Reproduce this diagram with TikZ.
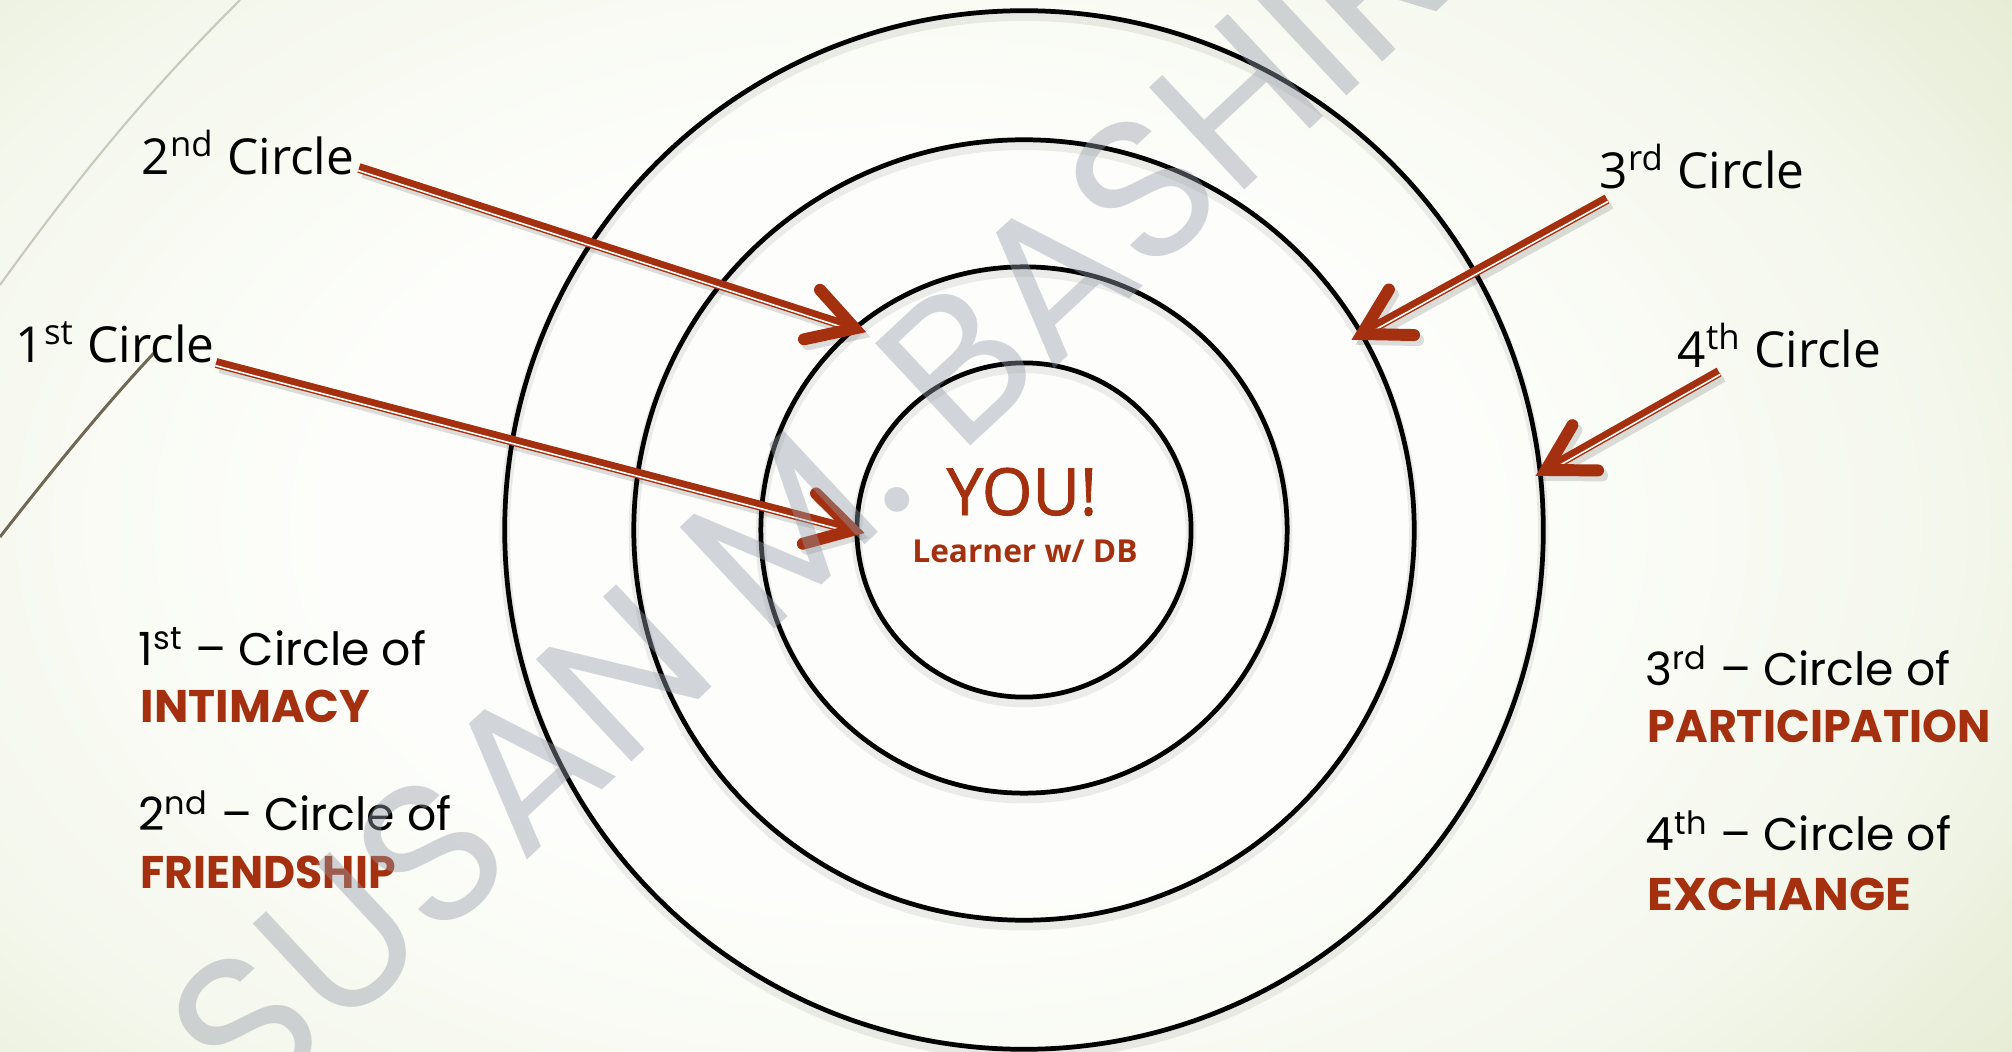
\documentclass[tikz,border=0pt]{standalone}
\usepackage{fontspec}
\setmainfont{Open Sans}
\newfontfamily\gothic{Poppins}
\newfontfamily\youfont[FakeBold=1.3]{Open Sans}
\usetikzlibrary{calc}
\definecolor{accent}{HTML}{A5300F}
\definecolor{bgin}{HTML}{FDFEFB}
\definecolor{bgmid}{HTML}{F4F7EC}
\definecolor{bgout}{HTML}{E3EAD0}
\definecolor{wmark}{RGB}{150,155,168}
\definecolor{curvelight}{RGB}{200,201,186}
\definecolor{curvedark}{RGB}{110,104,84}
\pgfdeclareradialshading{slidebg}{\pgfpoint{0bp}{0bp}}{color(0bp)=(bgin); color(12bp)=(bgin); color(22bp)=(bgmid); color(30bp)=(bgout); color(50bp)=(bgout)}
\newcommand\redarrow[4]{%
  \begin{scope}[transform canvas={shift={(0.04cm,-0.05cm)}}]
    \path ($(#2)!0.08cm!(#1)$) coordinate (ae);
    \draw[black, opacity=0.13, line width=2.9pt] (#1) -- (ae);
    \draw[black, opacity=0.13, line width=3.4pt, line cap=round] ($(#2)!0.52cm!30:(#1)$) -- (#2) -- ($(#2)!0.52cm!-30:(#1)$);
  \end{scope}
  \path ($(#2)!0.08cm!(#1)$) coordinate (ae);
  \draw[accent, line width=2.8pt] (#1) -- (ae);
  \draw[white, line width=0.45pt] ($(#1)!0.027cm!#3:(ae)$) -- ($(ae)!0.027cm!#4:(#1)$);
  \draw[accent, line width=3.4pt, line cap=round] ($(#2)!0.52cm!30:(#1)$) -- (#2) -- ($(#2)!0.52cm!-30:(#1)$);
}
\begin{document}
\begin{tikzpicture}[x=0.01cm,y=-0.01cm,
  ring/.style={circle, draw=black, line width=1.35pt, inner sep=0pt, outer sep=0pt},
  ringshadow/.style={circle, draw=black, opacity=0.07, line width=3pt, inner sep=0pt, outer sep=0pt},
  lbl/.style={anchor=base west, inner sep=0pt, font=\fontsize{14.1pt}{16pt}\selectfont},
  desc/.style={anchor=base west, inner sep=0pt, font=\gothic\fontsize{13pt}{16pt}\selectfont},
  key/.style={anchor=base west, inner sep=0pt, text=accent, font=\gothic\bfseries\fontsize{13pt}{16pt}\selectfont},
]
\useasboundingbox (0,0) rectangle (2012,1052);
\clip (0,0) rectangle (2012,1052);
\shade[shading=slidebg] (-300,-260) rectangle (2100,1310);

% decorative theme curves
\draw[curvelight, line width=0.6pt] (240,0) .. controls (160,80) and (90,160) .. (0,285);
\draw[curvedark, line width=0.85pt] (154,353) .. controls (110,400) and (60,460) .. (0,537);

\coordinate (ctr) at (1024,530);
% soft shadows of the rings
\foreach \d in {3.34,5.26,7.80,10.38}
  \node[ringshadow, minimum size=\d cm] at ($(ctr)+(0,5)$) {};
\node[ring, minimum size=3.34cm] (c1) at (ctr) {};
\node[ring, minimum size=5.26cm] (c2) at (ctr) {};
\node[ring, minimum size=7.80cm] (c3) at (ctr) {};
\node[ring, minimum size=10.38cm] (c4) at (ctr) {};

% labels
\node[lbl] (l2) at (141,175) {2\textsuperscript{nd} Circle};
\node[lbl] (l1) at (15,363) {1\textsuperscript{st} Circle};
\node[lbl] (l3) at (1599,189) {3\textsuperscript{rd} Circle};
\node[lbl] (l4) at (1677,368) {4\textsuperscript{th} Circle};

% arrow ends
\coordinate (s2) at (359,168);
\coordinate (t2) at (c2.130.5);
\coordinate (s1) at (216,363);
\coordinate (t1) at (853,530);
\coordinate (s3) at (1607,199);
\coordinate (t3) at (1362,334);
\coordinate (s4) at (1719,372);
\coordinate (t4) at (1546,470);

\redarrow{s2}{t2}{-90}{90}
\redarrow{s1}{t1}{-90}{90}
\redarrow{s3}{t3}{90}{-90}
\redarrow{s4}{t4}{90}{-90}

% centre
\node[text=accent, inner sep=0pt, anchor=base, font=\youfont\fontsize{18.5pt}{20pt}\selectfont] (you) at (1022,515) {YOU!};
\node[text=accent, inner sep=0pt, anchor=base, font=\bfseries\fontsize{9pt}{10pt}\selectfont] (lrn) at (1025,563) {Learner w/ DB};

% descriptions
\node[desc] (d1) at (138,665) {1\textsuperscript{st} – Circle of};
\node[key] (k1) at (140,722) {INTIMACY};
\node[desc] (d2) at (138,830) {2\textsuperscript{nd} – Circle of};
\node[key] (k2) at (140,888) {\scalebox{0.965}[1]{FRIENDSHIP}};
\node[desc] (d3) at (1645,685) {3\textsuperscript{rd} – Circle of};
\node[key] (k3) at (1647,742) {\scalebox{0.97}[1]{PARTICIPATION}};
\node[desc] (d4) at (1645,850) {4\textsuperscript{th} – Circle of};
\node[key] (k4) at (1647,910) {\scalebox{1.04}[1]{EXCHANGE}};

% watermark
\node[text=wmark, text opacity=0.42, rotate=43, inner sep=0pt, font=\gothic\fontsize{57pt}{64pt}\selectfont] (wm) at (808,502) {SUSAN M. BASHIR};
\end{tikzpicture}
\end{document}
